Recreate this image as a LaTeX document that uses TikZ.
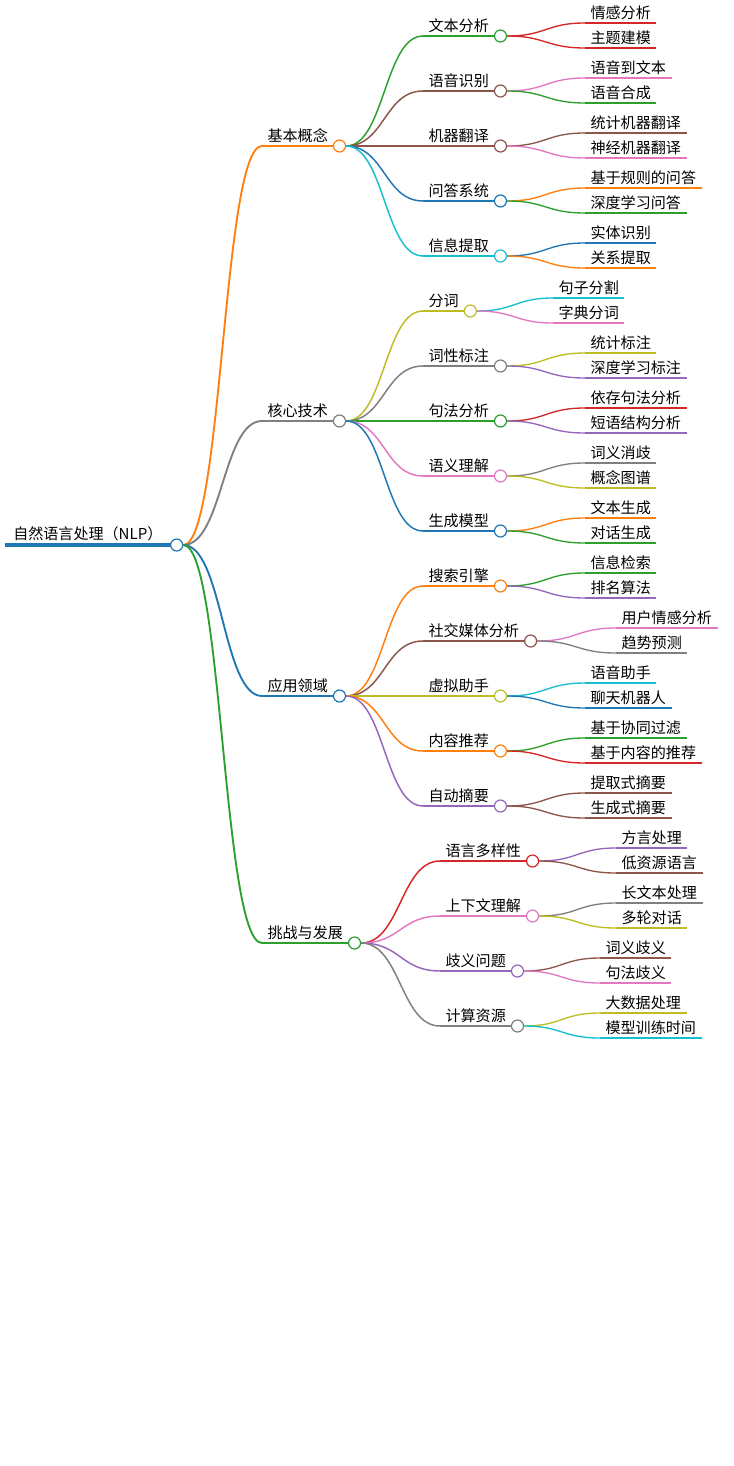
\documentclass[tikz,border=0pt]{standalone}
\usepackage{fontspec}
\newfontfamily\cjk{Noto Sans CJK SC}
\usetikzlibrary{calc}
\definecolor{cB}{HTML}{1F77B4}\definecolor{cO}{HTML}{FF7F0E}\definecolor{cG}{HTML}{2CA02C}
\definecolor{cR}{HTML}{D62728}\definecolor{cP}{HTML}{9467BD}\definecolor{cBr}{HTML}{8C564B}
\definecolor{cPk}{HTML}{E377C2}\definecolor{cGy}{HTML}{7F7F7F}\definecolor{cY}{HTML}{BCBD22}
\definecolor{cC}{HTML}{17BECF}
\tikzset{lbl/.style={font=\cjk\fontsize{11.3pt}{13pt}\selectfont,inner xsep=4pt,inner ysep=2.5pt,text=black},
dot/.style={circle,fill=white,line width=0.9pt,minimum size=9pt,inner sep=0pt}}
\newcommand\mnode[7]{%
\node[lbl,anchor=south west] (#1) at (#3,#4) {#5};
\draw[#2,line width=#7] (#1.south west) -- (#1.south east);
\draw[#2,line width=#7] let \p1=(#6), \p2=(#1.south west) in (\p1) .. controls ({(\x1+\x2)/2},\y1) and ({(\x1+\x2)/2},\y2) .. (\p2);
\node[dot,draw=#2] (#1d) at ([xshift=4.5pt]#1.south east) {};}
\newcommand\mleaf[6]{%
\node[lbl,anchor=south west] (#1) at (#3,#4) {#5};
\draw[#2,line width=1pt] (#1.south west) -- (#1.south east);
\draw[#2,line width=1pt] let \p1=(#6), \p2=(#1.south west) in (\p1) .. controls ({(\x1+\x2)/2},\y1) and ({(\x1+\x2)/2},\y2) .. (\p2);}
\begin{document}
\begin{tikzpicture}[x=0.75pt,y=-0.75pt]
\useasboundingbox (0,0) rectangle (733,1466);
\fill[white] (0,0) rectangle (733,1466);
% root
\node[lbl,anchor=south west,inner xsep=6pt] (r) at (5,545) {自然语言处理（NLP）};
\draw[cB,line width=2.5pt] (r.south west) -- (r.south east);
\node[dot,draw=cB] (rd) at ([xshift=4.5pt]r.south east) {};
% level 1
\mnode{a}{cO}{262}{146}{基本概念}{rd.east}{1.4pt}
\mnode{b}{cGy}{262}{421}{核心技术}{rd.east}{1.4pt}
\mnode{c}{cB}{262}{696}{应用领域}{rd.east}{1.4pt}
\mnode{e}{cG}{262}{943}{挑战与发展}{rd.east}{1.4pt}
% a
\mnode{a1}{cG}{423}{36}{文本分析}{ad.east}{1.1pt}
\mnode{a2}{cBr}{423}{91}{语音识别}{ad.east}{1.1pt}
\mnode{a3}{cBr}{423}{146}{机器翻译}{ad.east}{1.1pt}
\mnode{a4}{cB}{423}{201}{问答系统}{ad.east}{1.1pt}
\mnode{a5}{cC}{423}{256}{信息提取}{ad.east}{1.1pt}
\mleaf{a11}{cR}{585}{23}{情感分析}{a1d.east}
\mleaf{a12}{cR}{585}{48}{主题建模}{a1d.east}
\mleaf{a21}{cPk}{585}{78}{语音到文本}{a2d.east}
\mleaf{a22}{cG}{585}{103}{语音合成}{a2d.east}
\mleaf{a31}{cBr}{585}{133}{统计机器翻译}{a3d.east}
\mleaf{a32}{cPk}{585}{158}{神经机器翻译}{a3d.east}
\mleaf{a41}{cO}{585}{188}{基于规则的问答}{a4d.east}
\mleaf{a42}{cG}{585}{213}{深度学习问答}{a4d.east}
\mleaf{a51}{cB}{585}{243}{实体识别}{a5d.east}
\mleaf{a52}{cO}{585}{268}{关系提取}{a5d.east}
% b
\mnode{b1}{cY}{423}{311}{分词}{bd.east}{1.1pt}
\mnode{b2}{cGy}{423}{366}{词性标注}{bd.east}{1.1pt}
\mnode{b3}{cG}{423}{421}{句法分析}{bd.east}{1.1pt}
\mnode{b4}{cPk}{423}{476}{语义理解}{bd.east}{1.1pt}
\mnode{b5}{cB}{423}{531}{生成模型}{bd.east}{1.1pt}
\mleaf{b11}{cC}{553}{298}{句子分割}{b1d.east}
\mleaf{b12}{cPk}{553}{323}{字典分词}{b1d.east}
\mleaf{b21}{cY}{585}{353}{统计标注}{b2d.east}
\mleaf{b22}{cP}{585}{378}{深度学习标注}{b2d.east}
\mleaf{b31}{cR}{585}{408}{依存句法分析}{b3d.east}
\mleaf{b32}{cP}{585}{433}{短语结构分析}{b3d.east}
\mleaf{b41}{cGy}{585}{463}{词义消歧}{b4d.east}
\mleaf{b42}{cY}{585}{488}{概念图谱}{b4d.east}
\mleaf{b51}{cO}{585}{518}{文本生成}{b5d.east}
\mleaf{b52}{cG}{585}{543}{对话生成}{b5d.east}
% c
\mnode{c1}{cO}{423}{586}{搜索引擎}{cd.east}{1.1pt}
\mnode{c2}{cBr}{423}{641}{社交媒体分析}{cd.east}{1.1pt}
\mnode{c3}{cY}{423}{696}{虚拟助手}{cd.east}{1.1pt}
\mnode{c4}{cO}{423}{751}{内容推荐}{cd.east}{1.1pt}
\mnode{c5}{cP}{423}{806}{自动摘要}{cd.east}{1.1pt}
\mleaf{c11}{cG}{585}{573}{信息检索}{c1d.east}
\mleaf{c12}{cP}{585}{598}{排名算法}{c1d.east}
\mleaf{c21}{cPk}{616}{628}{用户情感分析}{c2d.east}
\mleaf{c22}{cGy}{616}{653}{趋势预测}{c2d.east}
\mleaf{c31}{cC}{585}{683}{语音助手}{c3d.east}
\mleaf{c32}{cB}{585}{708}{聊天机器人}{c3d.east}
\mleaf{c41}{cG}{585}{738}{基于协同过滤}{c4d.east}
\mleaf{c42}{cR}{585}{763}{基于内容的推荐}{c4d.east}
\mleaf{c51}{cBr}{585}{793}{提取式摘要}{c5d.east}
\mleaf{c52}{cBr}{585}{818}{生成式摘要}{c5d.east}
% e
\mnode{e1}{cR}{440}{861}{语言多样性}{ed.east}{1.1pt}
\mnode{e2}{cPk}{440}{916}{上下文理解}{ed.east}{1.1pt}
\mnode{e3}{cP}{440}{971}{歧义问题}{ed.east}{1.1pt}
\mnode{e4}{cGy}{440}{1026}{计算资源}{ed.east}{1.1pt}
\mleaf{e11}{cP}{616}{848}{方言处理}{e1d.east}
\mleaf{e12}{cBr}{616}{873}{低资源语言}{e1d.east}
\mleaf{e21}{cGy}{616}{903}{长文本处理}{e2d.east}
\mleaf{e22}{cY}{616}{928}{多轮对话}{e2d.east}
\mleaf{e31}{cBr}{600}{958}{词义歧义}{e3d.east}
\mleaf{e32}{cPk}{600}{983}{句法歧义}{e3d.east}
\mleaf{e41}{cY}{600}{1013}{大数据处理}{e4d.east}
\mleaf{e42}{cC}{600}{1038}{模型训练时间}{e4d.east}
\end{tikzpicture}
\end{document}
